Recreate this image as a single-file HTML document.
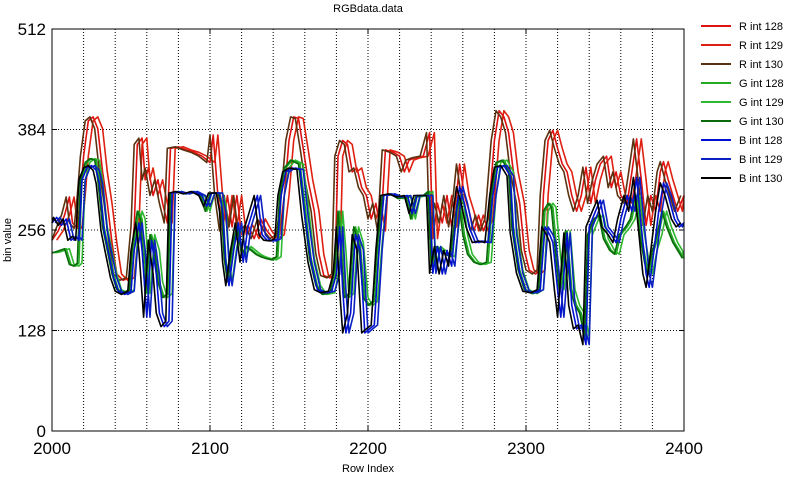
<!DOCTYPE html>
<html><head><meta charset="utf-8"><style>
body{margin:0;background:#fff;width:794px;height:477px;overflow:hidden;font-family:"Liberation Sans",sans-serif}
svg{display:block}
</style></head><body>
<svg id="chart" width="794" height="477"></svg>
<script>
const xTicks=[2000,2100,2200,2300,2400];
const yTicks=[0,128,256,384,512];
const seriesNames=["R int 128","R int 129","R int 130","G int 128","G int 129","G int 130","B int 128","B int 129","B int 130"];
const seriesColors=["#dd1111","#dd2010","#5a3210","#22aa22","#30b830","#0a6a0a","#0010d0","#0a20c0","#000000"];
const seriesChannel=[0,0,0,1,1,1,2,2,2];
const seriesLag=[0,3,-2,0,2,-1,0,2,-2];
const rRows=[2000,2004,2008,2011,2013,2016,2018,2020,2023,2026,2029,2032,2035,2038,2041,2045,2049,2052,2054,2057,2059,2061,2064,2067,2070,2073,2075,2080,2085,2090,2095,2100,2102,2105,2108,2111,2114,2117,2120,2124,2128,2132,2136,2140,2144,2147,2150,2153,2156,2159,2162,2166,2169,2172,2176,2179,2181,2184,2187,2190,2193,2196,2199,2202,2205,2208,2211,2216,2220,2223,2226,2230,2235,2239,2241,2244,2247,2250,2253,2256,2258,2261,2264,2267,2270,2273,2276,2280,2283,2286,2289,2292,2296,2299,2302,2306,2309,2311,2314,2317,2320,2323,2326,2329,2332,2335,2338,2341,2344,2347,2351,2354,2357,2360,2364,2367,2370,2373,2376,2379,2382,2385,2387,2390,2393,2396,2400];
const rValues=[243,255,275,298,265,258,300,350,395,400,385,330,290,240,200,192,195,260,365,373,320,335,300,320,290,265,360,362,358,355,350,342,377,300,255,300,260,300,250,262,245,270,255,245,250,300,370,400,398,360,320,280,225,198,195,200,350,370,365,330,335,310,300,270,290,255,358,355,350,330,345,348,350,380,245,290,265,300,260,300,340,300,280,255,275,255,270,370,408,400,380,330,290,230,205,200,205,300,370,383,360,340,330,300,280,300,336,290,320,340,350,310,330,300,290,330,372,320,262,300,280,330,343,320,300,280,300];
const gbRows=[2000,2003,2006,2009,2012,2015,2017,2019,2022,2025,2028,2030,2033,2036,2039,2042,2046,2050,2052,2055,2057,2060,2063,2066,2068,2071,2074,2076,2080,2085,2090,2095,2098,2101,2106,2108,2110,2112,2115,2118,2121,2124,2127,2130,2133,2136,2140,2143,2145,2148,2152,2157,2160,2164,2168,2172,2177,2180,2182,2184,2186,2189,2192,2195,2198,2201,2204,2207,2210,2215,2220,2225,2228,2231,2236,2239,2241,2244,2247,2250,2253,2256,2258,2261,2264,2268,2272,2276,2279,2282,2286,2290,2292,2296,2300,2305,2309,2312,2315,2317,2320,2322,2324,2326,2329,2332,2335,2338,2340,2344,2347,2350,2354,2357,2360,2364,2367,2370,2373,2376,2378,2381,2384,2387,2390,2394,2397,2400];
const bValues=[265,272,262,270,243,248,243,320,335,338,332,315,255,225,195,178,174,178,230,265,230,145,243,200,150,133,140,303,305,302,305,300,286,303,303,280,215,185,230,265,215,260,280,300,250,243,242,245,300,330,335,333,275,215,180,176,178,200,260,180,125,150,250,231,125,130,135,231,300,302,298,300,277,300,300,300,201,235,200,230,210,280,311,290,260,240,242,240,300,336,338,325,252,201,178,176,180,260,250,240,180,145,200,252,160,130,135,110,260,280,294,260,250,240,270,300,280,323,260,200,183,230,280,316,300,270,260,265];
const gValues=[227,228,230,232,212,210,214,320,342,347,345,320,260,230,200,180,176,180,240,280,270,175,250,230,190,170,175,303,305,302,305,298,280,303,303,290,220,190,235,260,225,235,230,225,222,220,218,222,300,335,345,340,290,220,185,174,176,210,280,230,170,175,260,240,170,160,165,240,300,302,296,298,270,298,300,305,210,235,230,225,222,270,300,250,225,215,212,215,300,342,345,330,260,205,180,175,180,280,290,285,220,180,210,255,180,160,150,120,250,270,275,245,230,225,250,260,270,300,250,215,200,230,250,280,260,240,230,220];

const X0=52,X1=684,Y0=431,Y1=29;
const xs=v=>X0+(v-2000)/400*(X1-X0);
const ys=v=>Y0-v/512*(Y0-Y1);
const NS="http://www.w3.org/2000/svg";
const svg=document.getElementById('chart');
function mk(tag,attrs,parent){const e=document.createElementNS(NS,tag);for(const k in attrs)e.setAttribute(k,attrs[k]);(parent||svg).appendChild(e);return e;}

// grid
const grid=mk('g',{});


for(let r=2020;r<2400;r+=20){const l=mk('line',{x1:xs(r),x2:xs(r),y1:Y1,y2:Y0,stroke:'#000','stroke-width':1,'stroke-dasharray':'1,2'},grid);

}
for(const t of [128,256,384]){const l=mk('line',{x1:X0,x2:X1,y1:ys(t),y2:ys(t),stroke:'#000','stroke-width':1,'stroke-dasharray':'1,2'},grid);

}

// series
const chans=[[rRows,rValues],[gbRows,gValues],[gbRows,bValues]];
const order=[0,1,2,3,4,5,6,7,8];
for(const i of order){
  const [rows,vals]=chans[seriesChannel[i]];
  let d='';
  rows.forEach((r,j)=>{let rr=Math.min(2400,Math.max(2000,r+seriesLag[i]));d+=(j?'L':'M')+xs(rr).toFixed(1)+','+ys(vals[j]).toFixed(1);});
  const p=mk('path',{d:d,fill:'none',stroke:seriesColors[i],'stroke-width':1.6,'stroke-linejoin':'round'});
  
  
}

// axes frame
const frame=mk('rect',{x:X0,y:Y1,width:X1-X0,height:Y0-Y1,fill:'none',stroke:'#000','stroke-width':1});


for(const t of xTicks){
  mk('line',{x1:xs(t),x2:xs(t),y1:Y0,y2:Y0-5,stroke:'#000'});
  mk('line',{x1:xs(t),x2:xs(t),y1:Y1,y2:Y1+5,stroke:'#000'});
  const tx=mk('text',{x:xs(t),y:Y0+23,'text-anchor':'middle','font-size':17,fill:'#000'});
  tx.textContent=t;
  
  
}
for(const t of yTicks){
  mk('line',{x1:X0,x2:X0+5,y1:ys(t),y2:ys(t),stroke:'#000'});
  mk('line',{x1:X1,x2:X1-5,y1:ys(t),y2:ys(t),stroke:'#000'});
  const tx=mk('text',{x:X0-6,y:ys(t)+6,'text-anchor':'end','font-size':17,fill:'#000'});
  tx.textContent=t;
  
  
}
const title=mk('text',{x:368,y:12,'text-anchor':'middle','font-size':11,fill:'#000'});
title.textContent='RGBdata.data';


const xl=mk('text',{x:368,y:472,'text-anchor':'middle','font-size':11,fill:'#000'});
xl.textContent='Row Index';


const yl=mk('text',{x:0,y:0,'text-anchor':'middle','font-size':11,fill:'#000',transform:'translate(11,240) rotate(-90)'});
yl.textContent='bin value';



// legend
const lg=mk('g',{});


seriesNames.forEach((n,i)=>{
  const y=26+i*19;
  const g=mk('g',{},lg);
  
  
  mk('line',{x1:701,x2:731,y1:y,y2:y,stroke:seriesColors[i],'stroke-width':2},g);
  const t=mk('text',{x:739,y:y+4,'font-size':11,fill:'#000'},g);
  t.textContent=n;
});
</script>
</body></html>
